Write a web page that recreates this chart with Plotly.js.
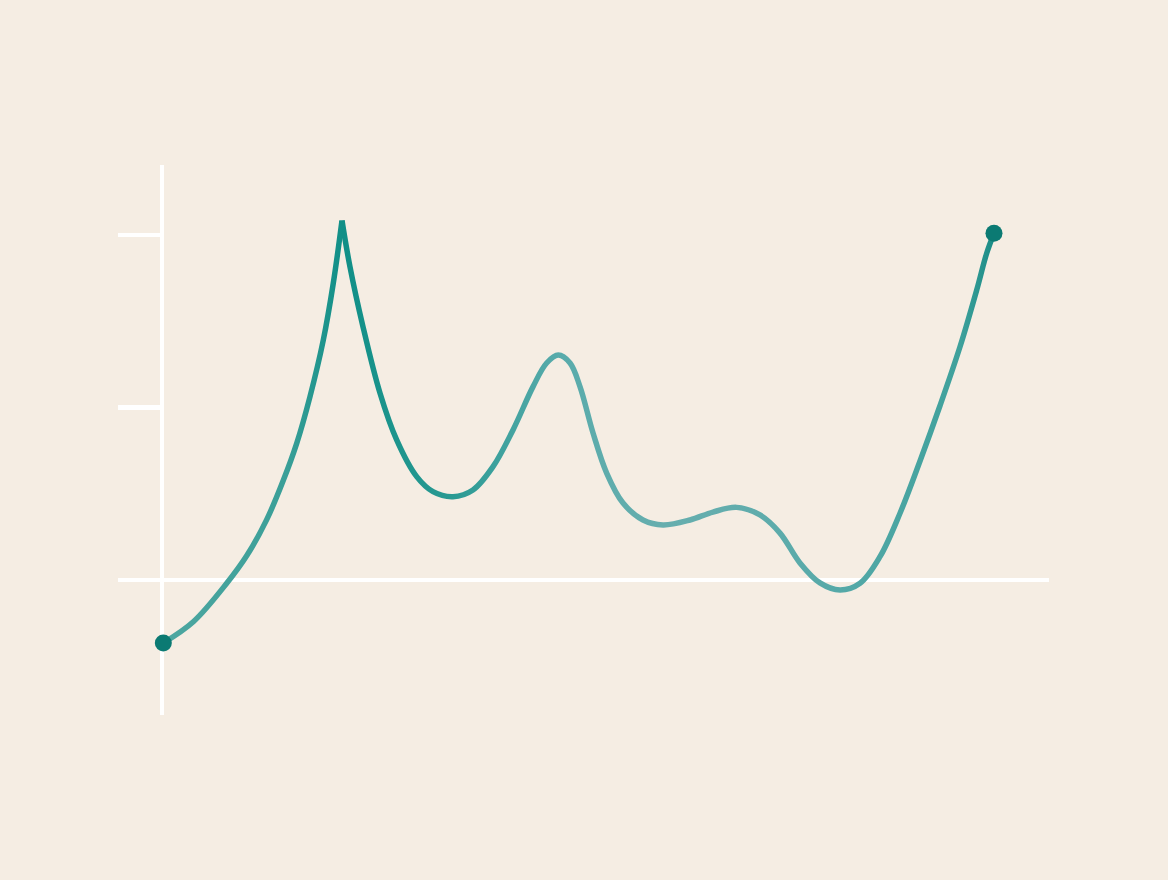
<!DOCTYPE html>
<html lang="en">

<head>
    <meta charset="UTF-8">
    <script src="https://cdn.plot.ly/plotly-3.0.1.min.js"></script>
    <title>Curve</title>
    <style>
        body { margin: 0; background: #f5ede3; }
    </style>
</head>

<body>
    <div id="chart" style="width:1168px;height:880px;"></div>

    <script>
        // values: rise up to the spike, then the rest
        var riseX = [0.016, 0.377, 0.779, 1.019, 1.260, 1.460, 1.621, 1.781, 1.941, 2.061, 2.166]
        var riseY = [-0.365, -0.242, -0.019, 0.140, 0.350, 0.578, 0.792, 1.063, 1.391, 1.720, 2.084]

        var restX = [2.166, 2.262, 2.419, 2.623, 2.824, 3.065, 3.261, 3.502, 3.742, 3.983, 4.224,
            4.465, 4.629, 4.769, 4.910, 5.030, 5.187, 5.351, 5.548, 5.788, 6.029, 6.354, 6.630,
            6.916, 7.196, 7.437, 7.677, 7.918, 8.159, 8.400, 8.640, 8.881, 9.122, 9.362, 9.603,
            9.804, 9.924, 10.012]
        var restY = [2.084, 1.816, 1.468, 1.084, 0.812, 0.599, 0.512, 0.483, 0.522, 0.657, 0.870,
            1.121, 1.258, 1.304, 1.258, 1.121, 0.852, 0.620, 0.446, 0.348, 0.319, 0.348, 0.394,
            0.421, 0.377, 0.272, 0.099, -0.017, -0.058, -0.019, 0.135, 0.387, 0.690, 1.010, 1.352,
            1.681, 1.894, 2.010]

        var yTicks = [0, 1, 2]

        // colour along the line, by x
        var stopX = [0, 1.5, 2.17, 3.5, 4.77, 6.0, 6.9, 8.16, 9.6, 10.012]
        var stopC = ['#4ea7a1', '#3a9f98', '#108f87', '#2a9a93', '#58abab', '#66aeae',
            '#62adad', '#55a9a8', '#3fa19c', '#1a8c86']

        var lineStyle = { shape: 'spline', smoothing: 1, width: 5.5, color: '#4aa5a2' }

        var traces = [{
            x: riseX,
            y: riseY,
            mode: 'lines',
            line: lineStyle,
            hoverinfo: 'skip',
            cliponaxis: false
        }, {
            x: restX,
            y: restY,
            mode: 'lines',
            line: lineStyle,
            hoverinfo: 'skip',
            cliponaxis: false
        }, {
            // end dots
            x: [riseX[0], restX[restX.length - 1]],
            y: [riseY[0], restY[restY.length - 1]],
            mode: 'markers',
            marker: { size: 17, color: '#0b7a73' },
            hoverinfo: 'skip',
            cliponaxis: false
        }]

        var bg = '#f5ede3'
        var layout = {
            width: 1168,
            height: 880,
            margin: { l: 118, r: 119, t: 165, b: 165 },
            paper_bgcolor: bg,
            plot_bgcolor: bg,
            showlegend: false,
            xaxis: {
                range: [-0.5295, 10.674],
                showgrid: false,
                showticklabels: false,
                ticks: '',
                zeroline: true,
                zerolinecolor: '#ffffff',
                zerolinewidth: 4.5,
                fixedrange: true
            },
            yaxis: {
                range: [-0.7826, 2.4058],
                anchor: 'free',
                position: 0.04726,
                showgrid: false,
                showline: false,
                showticklabels: false,
                tickvals: yTicks,
                ticks: 'outside',
                ticklen: 44,
                tickwidth: 4.5,
                tickcolor: '#ffffff',
                zeroline: true,
                zerolinecolor: '#ffffff',
                zerolinewidth: 4.5,
                fixedrange: true
            }
        }

        var gd = document.getElementById('chart')
        Plotly.newPlot(gd, traces, layout, { displayModeBar: false, staticPlot: true }).then(function() {
            // horizontal colour gradient on the line, placed with the x axis scale
            var xa = gd._fullLayout.xaxis
            var ns = 'http://www.w3.org/2000/svg'
            var defs = gd.querySelector('.main-svg defs')
            var grad = document.createElementNS(ns, 'linearGradient')
            grad.setAttribute('id', 'lineGrad')
            grad.setAttribute('gradientUnits', 'userSpaceOnUse')
            var x0 = xa.l2p(stopX[0]), x1 = xa.l2p(stopX[stopX.length - 1])
            grad.setAttribute('x1', x0)
            grad.setAttribute('x2', x1)
            grad.setAttribute('y1', 0)
            grad.setAttribute('y2', 0)
            stopX.forEach(function(sx, i) {
                var s = document.createElementNS(ns, 'stop')
                s.setAttribute('offset', (xa.l2p(sx) - x0) / (x1 - x0))
                s.setAttribute('stop-color', stopC[i])
                grad.appendChild(s)
            })
            defs.appendChild(grad)
            gd.querySelectorAll('.scatterlayer .trace .js-line').forEach(function(p) {
                p.style.stroke = 'url(#lineGrad)'
            })
        })
    </script>
</body>

</html>
